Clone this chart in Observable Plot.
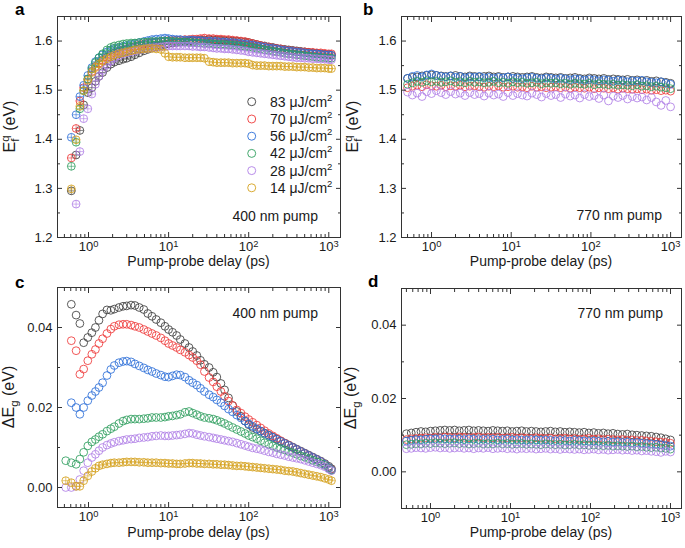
<!DOCTYPE html>
<html><head><meta charset="utf-8">
<script src="https://cdn.jsdelivr.net/npm/d3@7"></script>
<script src="https://cdn.jsdelivr.net/npm/@observablehq/plot@0.6"></script>
<style>
body{margin:0;background:#fff;}
#wrap{position:relative;width:685px;height:548px;font-family:"Liberation Sans",Arial,sans-serif;}
#wrap svg{position:absolute;}
</style></head><body><div id="wrap"></div>
<script>
// ---------- data ----------
const fluences = ["83", "70", "56", "42", "28", "14"];           // µJ/cm²
const colors   = ["#3d3d3d", "#ee3a3a", "#2d6fd8", "#2f9e5e", "#b07fe6", "#d5a11e"];

const xMajor = [1, 10, 100, 1000];
const xMinor = [0.5,0.6,0.7,0.8,0.9,2,3,4,5,6,7,8,9,20,30,40,50,60,70,80,90,200,300,400,500,600,700,800,900];
const yMajorEf = [1.2, 1.3, 1.4, 1.5, 1.6];
const yMinorEf = [1.25, 1.35, 1.45, 1.55];
const yMajorEg = [0, 0.02, 0.04];
const yMinorEg = [-0.01, 0.01, 0.03];

// 400 nm pump delays (ps)
const delays400 = [0.52,0.61,0.70,0.78,0.87,0.98,1.1,1.22,1.35,1.5,
  1.7,1.9,2.1,2.4,2.7,3.0,3.4,3.8,4.3,4.9,
  5.5,6.2,7,8,9,10,11.2,12.6,14,16,
  18,20,22.5,25,28,32,36,40,45,50,
  56,63,71,80,90,100,112,126,141,158,
  178,200,224,251,282,316,355,398,447,501,
  562,631,708,794,891,1000,1080];

// panel a : E_f^q (eV), 400 nm pump
const efA_83 = [null,1.295,1.368,1.418,1.470,1.495,1.505,1.518,1.528,1.536,
  1.546,1.553,1.557,1.560,1.563,1.565,1.568,1.572,1.576,1.580,
  1.583,1.586,1.588,1.591,1.593,1.595,1.596,1.597,1.598,1.599,
  1.600,1.601,1.601,1.602,1.602,1.603,1.602,1.602,1.602,1.601,
  1.601,1.600,1.600,1.599,1.598,1.597,1.595,1.593,1.591,1.590,
  1.588,1.587,1.585,1.584,1.583,1.582,1.581,1.580,1.579,1.578,
  1.577,1.576,1.575,1.574,1.573,1.572,1.571];
const efA_70 = [null,1.362,1.422,1.478,1.505,1.522,1.538,1.548,1.555,1.561,
  1.567,1.572,1.576,1.579,1.582,1.584,1.587,1.589,1.592,1.594,
  1.596,1.597,1.598,1.599,1.600,1.601,1.601,1.602,1.602,1.603,
  1.603,1.604,1.604,1.605,1.606,1.605,1.605,1.604,1.604,1.603,
  1.603,1.602,1.601,1.600,1.599,1.597,1.595,1.593,1.591,1.589,
  1.588,1.586,1.585,1.584,1.582,1.581,1.580,1.579,1.578,1.578,
  1.577,1.577,1.576,1.576,1.575,1.574,1.574];
const efA_56 = [null,1.404,1.450,1.487,1.510,1.530,1.546,1.558,1.566,1.572,
  1.578,1.582,1.585,1.587,1.589,1.591,1.593,1.595,1.597,1.599,
  1.601,1.603,1.604,1.605,1.606,1.605,1.604,1.603,1.603,1.602,
  1.602,1.602,1.601,1.601,1.600,1.600,1.599,1.599,1.598,1.598,
  1.597,1.597,1.596,1.595,1.594,1.593,1.592,1.590,1.589,1.588,
  1.586,1.585,1.584,1.582,1.581,1.580,1.579,1.578,1.577,1.576,
  1.575,1.574,1.574,1.573,1.572,1.572,1.571];
const efA_42 = [null,1.345,1.394,1.462,1.499,1.523,1.543,1.556,1.566,1.574,
  1.582,1.587,1.590,1.592,1.594,1.595,1.596,1.596,1.597,1.598,
  1.598,1.599,1.599,1.600,1.600,1.600,1.599,1.599,1.598,1.598,
  1.597,1.597,1.596,1.596,1.595,1.595,1.594,1.594,1.593,1.593,
  1.592,1.592,1.591,1.590,1.589,1.588,1.587,1.585,1.584,1.582,
  1.581,1.579,1.578,1.577,1.575,1.574,1.573,1.572,1.571,1.570,
  1.569,1.568,1.567,1.566,1.566,1.565,1.565];
const efA_28 = [null,null,1.268,1.375,1.442,1.462,1.492,1.512,1.528,1.540,
  1.551,1.559,1.565,1.570,1.574,1.576,1.578,1.580,1.582,1.584,
  1.585,1.586,1.587,1.588,1.589,1.590,1.590,1.590,1.590,1.590,
  1.590,1.589,1.589,1.588,1.588,1.587,1.586,1.585,1.585,1.584,
  1.584,1.583,1.582,1.581,1.580,1.578,1.577,1.576,1.575,1.574,
  1.573,1.572,1.571,1.570,1.569,1.568,1.567,1.566,1.566,1.565,
  1.565,1.564,1.564,1.563,1.563,1.562,1.562];
const efA_14 = [null,1.299,1.399,1.467,1.499,1.520,1.536,1.546,1.553,1.559,
  1.564,1.568,1.571,1.574,1.576,1.578,1.580,1.582,1.583,1.584,
  1.585,1.585,1.584,1.583,1.575,1.568,1.567,1.567,1.567,1.566,
  1.566,1.566,1.566,1.566,1.565,1.558,1.557,1.556,1.556,1.556,
  1.556,1.555,1.555,1.555,1.555,1.554,1.551,1.550,1.550,1.550,
  1.549,1.549,1.549,1.549,1.548,1.548,1.548,1.547,1.547,1.547,
  1.546,1.546,1.545,1.545,1.545,1.544,1.544];

// panel c : ΔE_g (eV), 400 nm pump
const dEgA_83 = [null,0.0458,0.0431,0.0410,0.0362,0.0375,0.0387,0.0400,0.0418,0.0434,
  0.0444,0.0443,0.0446,0.0450,0.0453,0.0454,0.0456,0.0455,0.0450,0.0445,
  0.0435,0.0428,0.0420,0.0412,0.0403,0.0395,0.0388,0.0380,0.0370,0.0360,
  0.0350,0.0340,0.0330,0.0318,0.0308,0.0300,0.0288,0.0276,0.0260,0.0244,
  0.0224,0.0205,0.0190,0.0178,0.0166,0.0157,0.0150,0.0145,0.0141,0.0136,
  0.0131,0.0126,0.0121,0.0116,0.0111,0.0106,0.0101,0.0096,0.0091,0.0086,
  0.0081,0.0076,0.0071,0.0066,0.0060,0.0053,0.0047];
const dEgA_70 = [null,0.0367,0.0342,0.0283,0.0296,0.0317,0.0333,0.0345,0.0360,0.0372,
  0.0385,0.0396,0.0403,0.0407,0.0408,0.0408,0.0406,0.0403,0.0400,0.0395,
  0.0390,0.0385,0.0380,0.0374,0.0367,0.0360,0.0355,0.0350,0.0344,0.0338,
  0.0331,0.0325,0.0317,0.0307,0.0290,0.0275,0.0264,0.0252,0.0240,0.0228,
  0.0216,0.0205,0.0194,0.0186,0.0177,0.0170,0.0163,0.0156,0.0149,0.0142,
  0.0135,0.0129,0.0123,0.0117,0.0111,0.0106,0.0100,0.0095,0.0090,0.0085,
  0.0080,0.0075,0.0070,0.0065,0.0058,0.0050,0.0045];
const dEgA_56 = [null,0.0212,0.0200,0.0183,0.0200,0.0217,0.0230,0.0240,0.0250,0.0262,
  0.0280,0.0295,0.0305,0.0312,0.0315,0.0316,0.0314,0.0309,0.0304,0.0299,
  0.0294,0.0290,0.0285,0.0281,0.0277,0.0276,0.0279,0.0282,0.0281,0.0276,
  0.0268,0.0262,0.0256,0.0248,0.0240,0.0232,0.0226,0.0219,0.0212,0.0204,
  0.0196,0.0189,0.0181,0.0174,0.0166,0.0159,0.0153,0.0147,0.0141,0.0135,
  0.0130,0.0125,0.0120,0.0115,0.0110,0.0105,0.0100,0.0095,0.0090,0.0085,
  0.0080,0.0075,0.0070,0.0065,0.0058,0.0050,0.0044];
const dEgA_42 = [0.0067,0.0062,0.0058,0.0071,0.0088,0.0104,0.0114,0.0120,0.0127,0.0133,
  0.0141,0.0147,0.0152,0.0160,0.0166,0.0169,0.0171,0.0171,0.0171,0.0172,
  0.0173,0.0175,0.0175,0.0175,0.0176,0.0178,0.0179,0.0181,0.0183,0.0188,
  0.0190,0.0186,0.0182,0.0178,0.0175,0.0173,0.0171,0.0168,0.0164,0.0160,
  0.0155,0.0150,0.0145,0.0140,0.0135,0.0130,0.0126,0.0122,0.0117,0.0112,
  0.0108,0.0104,0.0100,0.0097,0.0094,0.0090,0.0087,0.0083,0.0079,0.0076,
  0.0072,0.0068,0.0064,0.0060,0.0055,0.0048,0.0043];
const dEgA_28 = [0.0000,0.0000,0.0003,0.0020,0.0042,0.0062,0.0075,0.0083,0.0092,0.0100,
  0.0106,0.0110,0.0113,0.0116,0.0118,0.0120,0.0121,0.0122,0.0124,0.0125,
  0.0126,0.0128,0.0129,0.0130,0.0129,0.0129,0.0130,0.0131,0.0132,0.0134,
  0.0136,0.0135,0.0132,0.0130,0.0128,0.0126,0.0124,0.0122,0.0120,0.0118,
  0.0116,0.0114,0.0111,0.0108,0.0105,0.0102,0.0099,0.0097,0.0095,0.0092,
  0.0089,0.0087,0.0084,0.0082,0.0080,0.0077,0.0075,0.0073,0.0071,0.0068,
  0.0065,0.0062,0.0059,0.0056,0.0052,0.0046,0.0042];
const dEgA_14 = [0.0017,0.0012,0.0003,0.0003,0.0017,0.0029,0.0040,0.0048,0.0054,0.0057,
  0.0059,0.0061,0.0062,0.0062,0.0063,0.0064,0.0064,0.0064,0.0063,0.0063,
  0.0062,0.0062,0.0062,0.0061,0.0061,0.0060,0.0060,0.0059,0.0059,0.0060,
  0.0061,0.0061,0.0060,0.0060,0.0059,0.0059,0.0058,0.0058,0.0057,0.0057,
  0.0056,0.0055,0.0054,0.0054,0.0053,0.0052,0.0051,0.0050,0.0049,0.0048,
  0.0047,0.0046,0.0045,0.0044,0.0042,0.0041,0.0040,0.0038,0.0036,0.0034,
  0.0032,0.0030,0.0028,0.0026,0.0023,0.0020,0.0017];

// 770 nm pump delays (ps)
const delays770 = [0.50,0.575,0.66,0.76,0.87,1.0,1.15,1.32,1.51,1.74,
  2.0,2.29,2.63,3.02,3.47,3.98,4.57,5.25,6.03,6.92,
  7.94,9.12,10.5,12.0,13.8,15.8,18.2,20.9,24.0,27.5,
  31.6,36.3,41.7,47.9,55.0,63.1,72.4,83.2,95.5,110,
  126,145,166,191,219,251,288,331,380,437,
  501,575,661,759,871,1000];

// panel b : E_f^q (eV), 770 nm pump
const efB_83 = [1.524,1.526,1.527,1.529,1.530,1.531,1.530,1.529,1.528,1.529,
  1.530,1.528,1.527,1.529,1.528,1.527,1.528,1.529,1.527,1.528,
  1.526,1.527,1.528,1.527,1.526,1.527,1.528,1.526,1.525,1.527,
  1.526,1.525,1.526,1.524,1.525,1.526,1.524,1.523,1.525,1.524,
  1.523,1.524,1.522,1.523,1.522,1.521,1.522,1.520,1.521,1.519,
  1.520,1.518,1.519,1.517,1.516,1.514];
const efB_70 = [1.505,1.508,1.510,1.507,1.511,1.509,1.508,1.510,1.507,1.509,
  1.508,1.510,1.507,1.508,1.509,1.507,1.506,1.508,1.507,1.509,
  1.506,1.507,1.508,1.506,1.507,1.505,1.508,1.506,1.507,1.505,
  1.506,1.507,1.505,1.506,1.504,1.506,1.505,1.504,1.506,1.503,
  1.505,1.504,1.503,1.505,1.502,1.504,1.503,1.502,1.503,1.501,
  1.502,1.500,1.501,1.499,1.500,1.498];
const efB_56 = [1.524,1.528,1.530,1.527,1.531,1.533,1.530,1.528,1.527,1.529,
  1.526,1.528,1.525,1.527,1.526,1.528,1.525,1.526,1.524,1.526,
  1.525,1.527,1.524,1.525,1.523,1.525,1.526,1.524,1.523,1.525,
  1.524,1.522,1.524,1.523,1.521,1.523,1.522,1.520,1.522,1.521,
  1.519,1.521,1.520,1.518,1.520,1.519,1.517,1.519,1.518,1.520,
  1.517,1.516,1.515,1.517,1.514,1.512];
const efB_42 = [1.512,1.515,1.518,1.516,1.519,1.517,1.518,1.516,1.517,1.519,
  1.516,1.517,1.515,1.518,1.516,1.517,1.515,1.516,1.518,1.515,
  1.516,1.514,1.517,1.515,1.516,1.514,1.515,1.516,1.513,1.515,
  1.514,1.515,1.513,1.514,1.512,1.514,1.513,1.512,1.514,1.511,
  1.513,1.512,1.511,1.512,1.510,1.511,1.510,1.509,1.511,1.508,
  1.509,1.507,1.508,1.506,1.505,1.503];
const efB_28 = [1.496,1.490,1.494,1.487,1.497,1.493,1.499,1.495,1.491,1.497,
  1.492,1.494,1.489,1.495,1.491,1.493,1.488,1.494,1.490,1.492,
  1.487,1.495,1.489,1.493,1.490,1.488,1.494,1.491,1.486,1.493,
  1.489,1.491,1.485,1.492,1.488,1.490,1.484,1.491,1.487,1.489,
  1.483,1.490,1.478,1.488,1.485,1.489,1.482,1.487,1.484,1.486,
  1.480,1.485,1.476,1.469,1.479,1.466];

// panel d : ΔE_g (eV), 770 nm pump
const dEgB_83 = [0.0104,0.0106,0.0108,0.0110,0.0109,0.0111,0.0112,0.0113,0.0114,0.0113,
  0.0114,0.0112,0.0113,0.0114,0.0112,0.0113,0.0112,0.0111,0.0113,0.0112,
  0.0111,0.0112,0.0110,0.0111,0.0112,0.0110,0.0111,0.0110,0.0109,0.0110,
  0.0111,0.0109,0.0110,0.0108,0.0109,0.0108,0.0107,0.0108,0.0106,0.0107,
  0.0105,0.0106,0.0104,0.0105,0.0103,0.0102,0.0103,0.0101,0.0100,0.0099,
  0.0098,0.0097,0.0095,0.0093,0.0090,0.0087];
const dEgB_70 = [0.0088,0.0090,0.0091,0.0092,0.0093,0.0092,0.0094,0.0093,0.0095,0.0094,
  0.0093,0.0095,0.0094,0.0093,0.0094,0.0095,0.0093,0.0094,0.0093,0.0094,
  0.0092,0.0093,0.0094,0.0092,0.0093,0.0092,0.0091,0.0093,0.0092,0.0091,
  0.0092,0.0090,0.0091,0.0092,0.0090,0.0091,0.0089,0.0090,0.0091,0.0089,
  0.0090,0.0088,0.0089,0.0088,0.0087,0.0088,0.0086,0.0087,0.0085,0.0086,
  0.0084,0.0083,0.0082,0.0081,0.0080,0.0078];
const dEgB_56 = [0.0084,0.0086,0.0088,0.0087,0.0089,0.0090,0.0089,0.0091,0.0090,0.0089,
  0.0090,0.0089,0.0088,0.0090,0.0089,0.0088,0.0089,0.0088,0.0089,0.0087,
  0.0088,0.0089,0.0087,0.0088,0.0087,0.0086,0.0088,0.0087,0.0086,0.0087,
  0.0086,0.0085,0.0086,0.0085,0.0084,0.0086,0.0085,0.0084,0.0083,0.0084,
  0.0083,0.0082,0.0083,0.0081,0.0082,0.0080,0.0081,0.0079,0.0080,0.0078,
  0.0077,0.0076,0.0075,0.0074,0.0072,0.0070];
const dEgB_42 = [0.0074,0.0075,0.0077,0.0076,0.0078,0.0077,0.0079,0.0078,0.0077,0.0078,
  0.0079,0.0077,0.0078,0.0076,0.0077,0.0078,0.0076,0.0077,0.0076,0.0078,
  0.0076,0.0077,0.0075,0.0076,0.0077,0.0075,0.0076,0.0075,0.0074,0.0076,
  0.0075,0.0074,0.0075,0.0073,0.0074,0.0075,0.0073,0.0074,0.0072,0.0073,
  0.0072,0.0071,0.0072,0.0070,0.0071,0.0070,0.0069,0.0070,0.0068,0.0069,
  0.0067,0.0066,0.0067,0.0065,0.0064,0.0062];
const dEgB_28 = [0.0063,0.0064,0.0066,0.0065,0.0064,0.0066,0.0067,0.0065,0.0066,0.0064,
  0.0065,0.0066,0.0064,0.0065,0.0063,0.0065,0.0064,0.0066,0.0063,0.0064,
  0.0065,0.0063,0.0064,0.0062,0.0064,0.0063,0.0064,0.0062,0.0063,0.0064,
  0.0062,0.0063,0.0061,0.0063,0.0062,0.0061,0.0062,0.0060,0.0061,0.0062,
  0.0060,0.0061,0.0059,0.0060,0.0061,0.0059,0.0060,0.0058,0.0059,0.0057,
  0.0058,0.0056,0.0055,0.0053,0.0056,0.0054];

// ---------- drawing ----------
const NS = "http://www.w3.org/2000/svg";
const wrap = document.getElementById("wrap");
const FONT = "Liberation Sans, Arial, Helvetica, sans-serif";

function rich(parent, x, y, parts, opts = {}) {
  const t = document.createElementNS(NS, "text");
  t.setAttribute("x", x); t.setAttribute("y", y);
  t.setAttribute("font-family", FONT);
  t.setAttribute("font-size", opts.size || 14);
  t.setAttribute("fill", opts.fill || "#1a1a1a");
  t.setAttribute("text-anchor", opts.anchor || "start");
  if (opts.weight) t.setAttribute("font-weight", opts.weight);
  if (opts.transform) { t.setAttribute("transform", opts.transform); t.setAttribute("x", 0); t.setAttribute("y", 0); }
  parts.forEach(p => {
    const s = document.createElementNS(NS, "tspan");
    if (typeof p === "string") { s.textContent = p; }
    else {
      s.textContent = p.t;
      if (p.dy != null) s.setAttribute("dy", p.dy);
      if (p.dx != null) s.setAttribute("dx", p.dx);
      if (p.size != null) s.setAttribute("font-size", p.size);
    }
    t.appendChild(s);
  });
  parent.appendChild(t);
  return t;
}

function panel(cfg) {
  const marks = [];
  cfg.series.forEach((vals, k) => {
    const rows = cfg.delays.map((t, i) => ({t, v: vals[i], s: fluences[k]})).filter(d => d.v != null);
    marks.push(Plot.dot(rows, {x: "t", y: "v", stroke: "s", r: 3.9, strokeWidth: 0.85}));
    if (cfg.plus && cfg.plus.includes(k))
      marks.push(Plot.dot(rows, {x: "t", y: "v", stroke: "s", symbol: "plus", r: 2.6, strokeWidth: 0.6}));
  });
  const blank = () => "";
  marks.push(
    Plot.frame({stroke: "#333", strokeWidth: 1}),
    Plot.axisY(cfg.yMajor, {anchor: "left", tickSize: -5, tickPadding: 10, tickFormat: cfg.yFormat, label: null, stroke: "#333"}),
    Plot.axisY(cfg.yMinor, {anchor: "left", tickSize: -3, tickFormat: blank, label: null, stroke: "#333"}),
    Plot.axisY(cfg.yMajor, {anchor: "right", tickSize: -5, tickFormat: blank, label: null, stroke: "#333"}),
    Plot.axisY(cfg.yMinor, {anchor: "right", tickSize: -3, tickFormat: blank, label: null, stroke: "#333"}),
    Plot.axisX(xMajor, {anchor: "bottom", tickSize: -5, tickPadding: 9, tickFormat: d => "10^" + Math.round(Math.log10(d)), label: null, stroke: "#333"}),
    Plot.axisX(xMinor, {anchor: "bottom", tickSize: -3, tickFormat: blank, label: null, stroke: "#333"}),
    Plot.axisX(xMajor, {anchor: "top", tickSize: -5, tickFormat: blank, label: null, stroke: "#333"}),
    Plot.axisX(xMinor, {anchor: "top", tickSize: -3, tickFormat: blank, label: null, stroke: "#333"})
  );
  const svg = Plot.plot({
    width: cfg.width, height: cfg.height,
    marginLeft: cfg.ml, marginRight: cfg.mr, marginTop: cfg.mt, marginBottom: cfg.mb,
    x: {type: "log", domain: cfg.xDomain},
    y: {domain: cfg.yDomain},
    color: {domain: fluences, range: colors},
    style: {fontFamily: FONT, fontSize: "13px", color: "#1a1a1a", background: "transparent"},
    marks
  });
  svg.style.left = cfg.left + "px";
  svg.style.top = cfg.top + "px";
  wrap.appendChild(svg);
  // superscript exponents on x tick labels
  svg.querySelectorAll("text").forEach(t => {
    const m = t.textContent.match(/^10\^(-?\d+)$/);
    if (m) {
      t.textContent = "10";
      const s = document.createElementNS(NS, "tspan");
      s.setAttribute("dy", "-0.45em"); s.setAttribute("font-size", "0.72em");
      s.textContent = m[1];
      t.appendChild(s);
    }
  });
  const fx0 = cfg.ml, fx1 = cfg.width - cfg.mr, fy0 = cfg.mt, fy1 = cfg.height - cfg.mb;
  const cx = (fx0 + fx1) / 2, cy = (fy0 + fy1) / 2;
  rich(svg, cx, cfg.xLabelY, ["Pump-probe delay (ps)"], {anchor: "middle", size: 14});
  rich(svg, 0, 0, cfg.yLabel, {anchor: "middle", size: 16, transform: `translate(${fx0 - cfg.yLabelDist},${cy}) rotate(-90)`});
  rich(svg, cfg.letterX, cfg.letterY, [cfg.letter], {size: 17, weight: "bold", fill: "#000"});
  rich(svg, cfg.noteX, cfg.noteY, [cfg.note], {anchor: "end", size: 14});
  return svg;
}

const efLabel = ["E", {t: "f", dy: 4, size: 11.5}, {t: "q", dx: -3.2, dy: -10.5, size: 11.5}, {t: " (eV)", dy: 6.5, size: 16}];
const egLabel = ["ΔE", {t: "g", dy: 4, size: 11.5}, {t: " (eV)", dy: -4, size: 16}];

const svgA = panel({
  left: 0, top: 0, width: 345, height: 272, ml: 57, mr: 5, mt: 16, mb: 35,
  xDomain: [0.41, 1400], yDomain: [1.2, 1.65],
  yMajor: yMajorEf, yMinor: yMinorEf, yFormat: d3.format(".1f"),
  delays: delays400, series: [efA_83, efA_70, efA_56, efA_42, efA_28, efA_14], plus: [0,1,2,3,4,5],
  xLabelY: 266, yLabel: efLabel, yLabelDist: 42, letter: "a", letterX: 15, letterY: 15,
  note: "400 nm pump", noteX: 318, noteY: 221
});
const svgB = panel({
  left: 340, top: 0, width: 345, height: 272, ml: 61, mr: 4, mt: 16, mb: 35,
  xDomain: [0.42, 1370], yDomain: [1.2, 1.65],
  yMajor: yMajorEf, yMinor: yMinorEf, yFormat: d3.format(".1f"),
  delays: delays770, series: [efB_83, efB_70, efB_56, efB_42, efB_28],
  xLabelY: 266, yLabel: efLabel, yLabelDist: 43, letter: "b", letterX: 23, letterY: 15,
  note: "770 nm pump", noteX: 322, noteY: 220
});
const svgC = panel({
  left: 0, top: 272, width: 345, height: 276, ml: 57, mr: 5, mt: 15, mb: 41,
  xDomain: [0.41, 1400], yDomain: [-0.005, 0.05],
  yMajor: yMajorEg, yMinor: [0.01, 0.03], yFormat: d3.format(".2f"),
  delays: delays400, series: [dEgA_83, dEgA_70, dEgA_56, dEgA_42, dEgA_28, dEgA_14], plus: [5],
  xLabelY: 265, yLabel: egLabel, yLabelDist: 43, letter: "c", letterX: 15, letterY: 16,
  note: "400 nm pump", noteX: 318, noteY: 46
});
const svgD = panel({
  left: 340, top: 272, width: 345, height: 276, ml: 61, mr: 4, mt: 16, mb: 40,
  xDomain: [0.434, 1373], yDomain: [-0.01, 0.05],
  yMajor: yMajorEg, yMinor: yMinorEg, yFormat: d3.format(".2f"),
  delays: delays770, series: [dEgB_83, dEgB_70, dEgB_56, dEgB_42, dEgB_28],
  xLabelY: 265, yLabel: egLabel, yLabelDist: 45, letter: "d", letterX: 28, letterY: 15,
  note: "770 nm pump", noteX: 323, noteY: 46
});

// legend in panel a
const legY = [101.7, 119, 136.2, 153.4, 170.6, 187.8];
fluences.forEach((f, i) => {
  const c = document.createElementNS(NS, "circle");
  c.setAttribute("cx", 251.7); c.setAttribute("cy", legY[i]); c.setAttribute("r", 4);
  c.setAttribute("fill", "none"); c.setAttribute("stroke", colors[i]); c.setAttribute("stroke-width", 0.9);
  svgA.appendChild(c);
  rich(svgA, 270, legY[i] + 5, [f + " μJ/cm", {t: "2", dy: -6, size: 9.5}], {size: 14});
});
</script>
</body></html>
